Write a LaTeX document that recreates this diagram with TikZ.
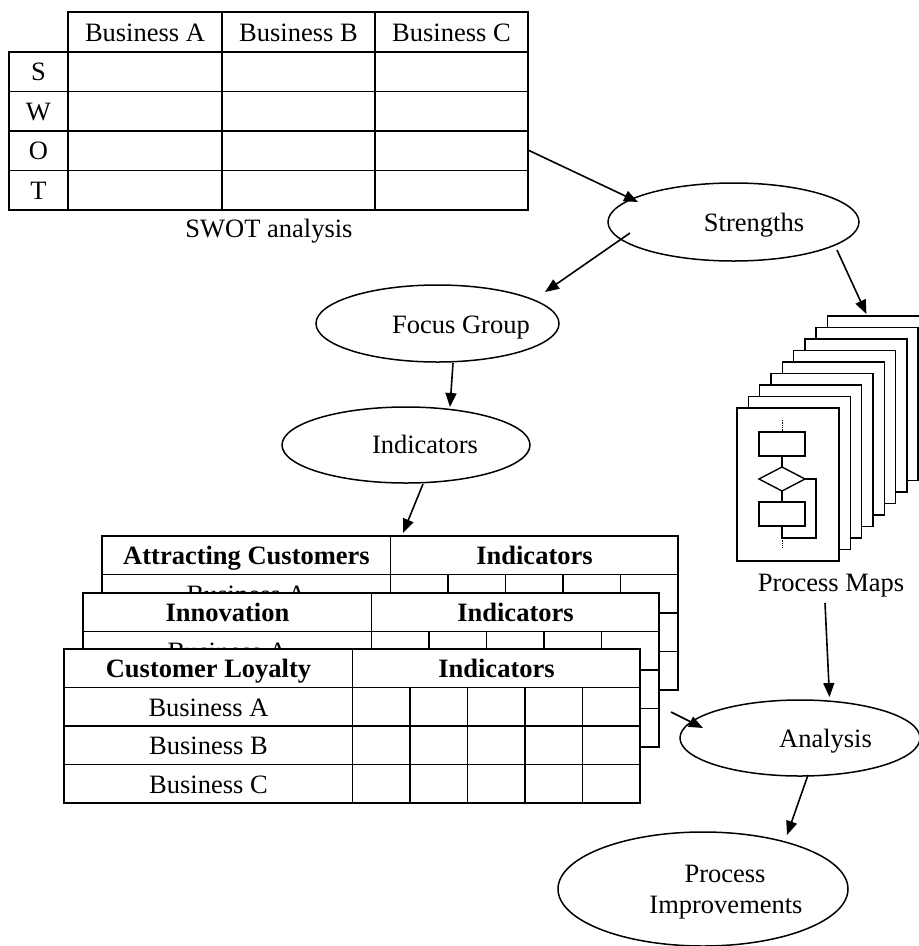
\documentclass[tikz,border=0pt]{standalone}
\usepackage{fontspec}
\setmainfont{Liberation Serif}
\usetikzlibrary{arrows.meta,shapes.geometric}
\begin{document}
\begin{tikzpicture}[x=1pt,y=-1pt,
  lw/.style={line width=1.6pt},
  txt/.style={font=\fontsize{26.5}{30}\selectfont, inner sep=0pt, anchor=base},
  btxt/.style={font=\fontsize{26.5}{30}\selectfont\bfseries, inner sep=0pt, anchor=base},
  oval/.style={draw, ellipse, line width=1.5pt, inner sep=0pt, outer sep=0pt},
  arr/.style={line width=1.6pt, -{Triangle[length=14pt,width=11pt]}},
  page/.style={draw, fill=white, line width=1.4pt, minimum width=102pt, minimum height=153pt, anchor=north west, inner sep=0pt, outer sep=0pt},
  tbl/.style={draw, fill=white, line width=1.6pt, minimum width=576pt, minimum height=154pt, anchor=north west, inner sep=0pt, outer sep=0pt},
  flow/.style={line width=1.4pt}]
\useasboundingbox (0,0) rectangle (919,946);

% ---------------- SWOT table ----------------
\draw[lw] (68,12) rectangle (528,210);
\draw[lw] (9,52) rectangle (68,210);
\foreach \yy in {52,91.5,131,170.5} \draw[lw] (9,\yy) -- (528,\yy);
\foreach \xx in {222,375} \draw[lw] (\xx,12) -- (\xx,210);
\node[txt] (hA) at (145,41) {Business A};
\node[txt] (hB) at (298.5,41) {Business B};
\node[txt] (hC) at (451.5,41) {Business C};
\node[txt] (rS) at (38.5,80.5) {S};
\node[txt] (rW) at (38.5,120) {W};
\node[txt] (rO) at (38.5,159.5) {O};
\node[txt] (rT) at (38.5,199) {T};
\node[txt] (swotL) at (269,237.5) {SWOT analysis};
\coordinate (swotO) at (528,150);

% ---------------- Ellipses ----------------
\node[oval, minimum width=251pt, minimum height=78pt] (str) at (733.5,222) {};
\node[txt] (strT) at (754,231.5) {Strengths};
\node[oval, minimum width=243pt, minimum height=77pt] (fg) at (437.5,323.5) {};
\node[txt] (fgT) at (461,333) {Focus Group};
\node[oval, minimum width=248pt, minimum height=76pt] (ind) at (406,445) {};
\node[txt] (indT) at (425,453.5) {Indicators};

% ---------------- Process map stack ----------------
\foreach \i in {8,7,...,0} \node[page] (pm\i) at ({737+11.3*\i},{408-11.5*\i}) {};
\draw[densely dotted, line width=0.7pt] (782,420) -- (782,432);
\draw[flow] (759,432) rectangle (805,456);
\draw[flow] (782,456) -- (782,467);
\draw[flow] (759,479) -- (782,467) -- (805,479) -- (782,491) -- cycle;
\draw[flow] (782,491) -- (782,502);
\draw[flow] (759,502) rectangle (805,526);
\draw[flow] (782,526) -- (782,538) -- (816,538) -- (816,479) -- (805,479);
\draw[densely dotted, line width=0.7pt] (782,538) -- (782,548);
\node[txt] (pmL) at (831,591) {Process Maps};

% ---------------- Stacked tables ----------------
\foreach \n/\xx/\yy/\ttl in {1/102/536/Attracting Customers, 2/83/593/Innovation, 3/64/649/Customer Loyalty}{
  \node[tbl] (t\n) at (\xx,\yy) {};
  \begin{scope}[shift={(t\n.north west)}]
    \draw[lw] (0,38.5) -- (576,38.5) (0,77) -- (576,77) (0,115.5) -- (576,115.5) (288.5,0) -- (288.5,154);
    \foreach \k in {1,...,4} \draw[lw] ({288.5+57.5*\k},38.5) -- ({288.5+57.5*\k},154);
    \node[btxt] (t\n h) at (144.5,28.5) {\ttl};
    \node[btxt] (t\n i) at (432.5,28.5) {Indicators};
    \node[txt] (t\n a) at (144.5,67) {Business A};
    \node[txt] (t\n b) at (144.5,105.5) {Business B};
    \node[txt] (t\n c) at (144.5,144) {Business C};
  \end{scope}
}

% ---------------- Lower ellipses ----------------
\node[oval, minimum width=240pt, minimum height=76pt] (an) at (800,738) {};
\node[txt] (anT) at (825.5,747) {Analysis};
\node[oval, minimum width=290pt, minimum height=114pt] (pi) at (703,889) {};
\node[txt] (piT1) at (725,882.5) {Process};
\node[txt] (piT2) at (726,913) {Improvements};

% ---------------- Arrows ----------------
\draw[arr] (swotO) -- ([shift={(-95.5,-20)}]str.center);
\draw[arr] ([shift={(-103.5,11)}]str.center) -- ([shift={(107.5,-31.5)}]fg.center);
\draw[arr] ([shift={(103.5,28)}]str.center) -- ([shift={(39,-2)}]pm8.north west);
\draw[arr] ([shift={(15.5,39.5)}]fg.center) -- ([shift={(44,-38)}]ind.center);
\draw[arr] ([shift={(17,39)}]ind.center) -- ([shift={(301,-3)}]t1.north west);
\draw[arr] ([shift={(-6,12)}]pmL.base) -- ([shift={(29.5,-41)}]an.center);
\draw[arr] ([shift={(12,119)}]t2.north east) -- ([shift={(-97,-10)}]an.center);
\draw[arr] ([shift={(8,37)}]an.center) -- ([shift={(84,-54)}]pi.center);
\end{tikzpicture}
\end{document}
